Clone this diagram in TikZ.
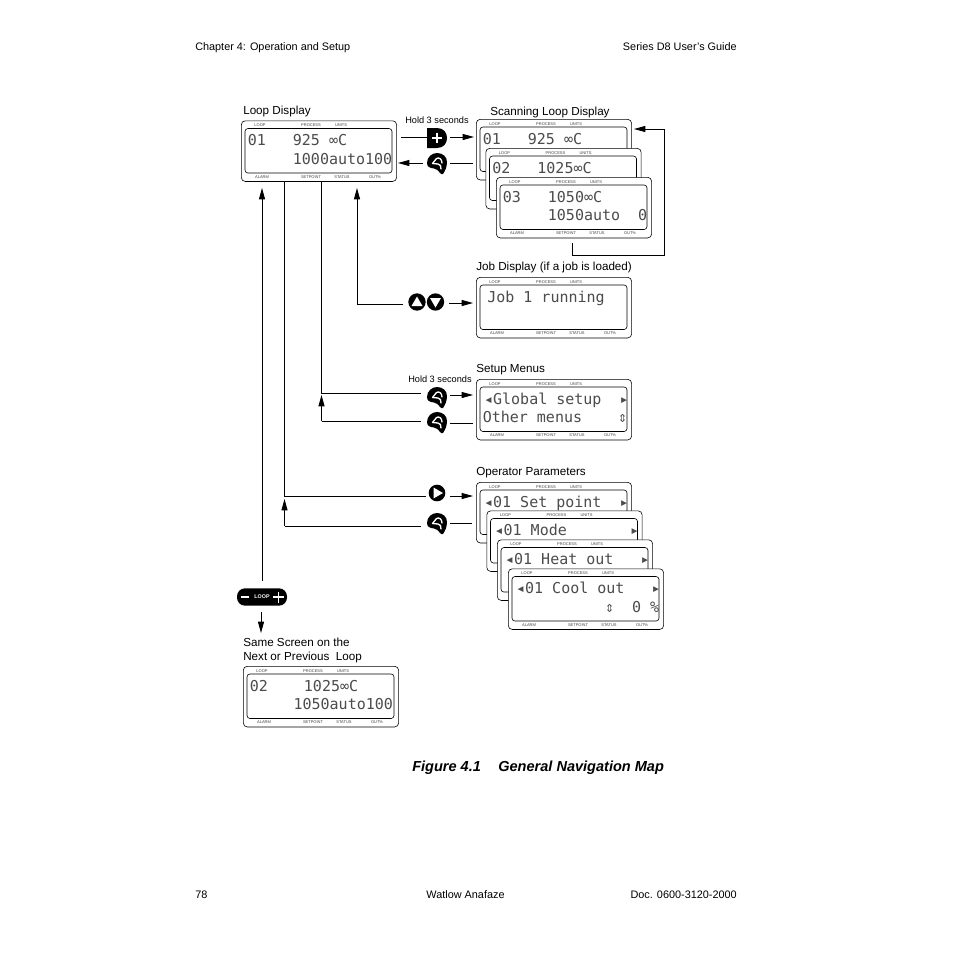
\documentclass[tikz,border=0pt]{standalone}
\usepackage{fontspec}
\setmainfont{Liberation Sans}
\newfontfamily\lcdfont{DejaVu Sans Mono}
\usetikzlibrary{arrows.meta}
\tikzset{
  px/.style={x=0.75pt,y=-0.75pt},
  lab/.style={inner sep=0pt,anchor=west,font=\fontsize{8.75pt}{10pt}\selectfont},
  page/.style={inner sep=0pt,anchor=west,font=\fontsize{8.15pt}{9.6pt}\selectfont},
  small/.style={inner sep=0pt,font=\fontsize{6.9pt}{8pt}\selectfont},
  tiny/.style={inner sep=0pt,text=black!75,font=\fontsize{3pt}{3.5pt}\selectfont},
  lcdtext/.style={inner sep=0pt,anchor=base west,text=black!70,font=\lcdfont\fontsize{11.25pt}{12pt}\selectfont},
  panel/.style={draw=black,line width=0.45pt,fill=white,rounded corners=3pt},
  pane/.style={draw=black,line width=0.45pt,rounded corners=2.2pt},
  link/.style={draw=black,line width=0.65pt},
  tip/.style={link,-{Triangle[length=8.5pt,width=4.5pt]}},
  btn/.style={inner sep=0pt,minimum size=15pt}
}
% \lcdbase{name}{x}{y}: panel, inner window and the top scale labels
\newcommand{\lcdbase}[3]{%
    \node[panel,minimum width=116.5pt,minimum height=45.5pt,anchor=north west,inner sep=0pt] (#1) at (#2,#3) {};
    \draw[pane] (#2+4,#3+8) rectangle (#2+151,#3+52.5);
    \node[tiny] at (#2+19,#3+5) {LOOP};
    \node[tiny] at (#2+70,#3+5) {PROCESS};
    \node[tiny] at (#2+100,#3+5) {UNITS};}
\newcommand{\lcdbottom}[2]{%
    \node[tiny] at (#1+21,#2+56.5) {ALARM};
    \node[tiny] at (#1+70,#2+56.5) {SETPOINT};
    \node[tiny] at (#1+101,#2+56.5) {STATUS};
    \node[tiny] at (#1+134,#2+56.5) {OUT\%};}
\newcommand{\lcdone}[3]{\node[lcdtext] at (#1+6.5,#2+25.3) {#3};}
\newcommand{\lcdtwo}[3]{\node[lcdtext] at (#1+6.5,#2+43.8) {#3};}
\newcommand{\backshape}[2]{%
  \node[btn] (#1) at #2 {};
  \begin{scope}[shift={#2}]
    \fill[black] (-10,0) .. controls (-10,-6) and (-5,-10) .. (0,-10) .. controls (6,-10) and (10,-6) .. (10,-1) .. controls (10,4) and (8,8) .. (6,11) .. controls (5,11.5) and (4,11) .. (3,10) .. controls (1,7) and (-1,6) .. (-3,5.5) .. controls (-7,5) and (-10,4) .. (-10,0) -- cycle;
    \draw[white,line width=1pt,line cap=round] (-4.5,0.5) -- (-0.5,-4.5);
    \draw[white,line width=1pt,line cap=round] (-4.5,0.5) -- (1,1) .. controls (3.5,1.5) and (4,3) .. (4,6);
    \draw[white,line width=1pt,line cap=round] (-0.5,-4.5) .. controls (2,-6) and (5,-4) .. (5,0);
  \end{scope}}
\begin{document}
\begin{tikzpicture}[px]
\useasboundingbox (0,0) rectangle (954,954);
\fill[white] (0,0) rectangle (954,954);

% page furniture
\node[page] (hl) at (195,47.5) {Chapter 4: Operation and Setup};
\node[page,anchor=east] (hr) at (737,47) {Series D8 User’s Guide};
\node[page] (fl) at (195,895) {78};
\node[page,anchor=center] (fc) at (465.5,895) {Watlow Anafaze};
\node[page,anchor=east] (fr) at (737,895) {Doc. 0600-3120-2000};
\node[inner sep=0pt,anchor=west,font=\fontsize{10.9pt}{12pt}\selectfont\bfseries\itshape] (title) at (412,768) {Figure 4.1\hspace{1.2em}General Navigation Map};

% captions
\node[lab] (c1) at (243,111) {Loop Display};
\node[lab] (c2) at (490,112) {Scanning Loop Display};
\node[lab] (c3) at (476,267) {Job Display (if a job is loaded)};
\node[lab] (c4) at (476,370) {Setup Menus};
\node[lab] (c5) at (476,473) {Operator Parameters};
\node[lab] (c6) at (243,642) {Same Screen on the};
\node[lab] (c7) at (243,657) {Next or Previous\ \ Loop};
\node[small,anchor=west] (h1) at (405,120) {Hold 3 seconds};
\node[small,anchor=west] (h2) at (408,379.5) {Hold 3 seconds};

% displays
\lcdbase{loopd}{241}{120.5}\lcdbottom{241}{120.5}
\lcdone{241}{120.5}{01~~~925~∞C}\lcdtwo{241}{120.5}{~~~~~1000auto100}

\lcdbase{scanA}{476}{119}
\lcdone{476}{119}{01~~~925~∞C}
\lcdbase{scanB}{485.5}{148}
\lcdone{485.5}{148}{02~~~1025∞C}
\lcdbase{scanC}{496}{177}\lcdbottom{496}{177}
\lcdone{496}{177}{03~~~1050∞C}\lcdtwo{496}{177}{~~~~~1050auto~~0}

\lcdbase{jobd}{476}{277}\lcdbottom{476}{277}
\lcdone{476}{277}{\hspace*{3.4pt}Job~1~running}

\lcdbase{setup}{476}{379}\lcdbottom{476}{379}
\lcdone{476}{379}{\hspace*{1pt}◂Global~setup~~▸}\lcdtwo{476}{379}{Other~menus~~~~⇕}

\lcdbase{opA}{476}{482}
\lcdone{476}{482}{\hspace*{1pt}◂01~Set~point~~▸}
\lcdbase{opB}{486.5}{510.5}
\lcdone{486.5}{510.5}{\hspace*{1pt}◂01~Mode~~~~~~~▸}
\lcdbase{opC}{497}{539.5}
\lcdone{497}{539.5}{\hspace*{1pt}◂01~Heat~out~~~▸}
\lcdbase{opD}{508}{568.5}\lcdbottom{508}{568.5}
\lcdone{508}{568.5}{\hspace*{1pt}◂01~Cool~out~~~▸}\lcdtwo{508}{568.5}{~~~~~~~~~~⇕~~0~\%}

\lcdbase{nextd}{243}{666}\lcdbottom{243}{666}
\lcdone{243}{666}{02~~~~1025∞C}\lcdtwo{243}{666}{\hspace*{-1pt}~~~~~1050auto100}

% buttons
\node[btn] (plus) at (437,138) {};
\fill[black] (427,128) -- (437,128) .. controls (444,128) and (447,133) .. (447,138) .. controls (447,143) and (444,148) .. (437,148) -- (427,148) -- cycle;
\draw[white,line width=1.5pt] (432,138) -- (442,138) (437,133) -- (437,143);
\backshape{backA}{(437,163)}
\backshape{backB}{(437,397)}
\backshape{backC}{(437,422)}
\backshape{backD}{(437,523)}
\node[btn,circle,fill=black,minimum size=13pt] (upb) at (417,302) {};
\node[btn,circle,fill=black,minimum size=13pt] (dnb) at (435.5,302) {};
\fill[white] (417,296.5) -- (422.5,306) -- (411.5,306) -- cycle;
\fill[white] (435.5,307.5) -- (441,298) -- (430,298) -- cycle;
\node[btn,circle,fill=black,minimum size=12.5pt] (rtb) at (437,493) {};
\fill[white] (433.5,487.5) -- (443,493) -- (433.5,498.5) -- cycle;
\node[inner sep=0pt,fill=black,rounded corners=6pt,minimum width=37.5pt,minimum height=13pt,text=white,font=\bfseries\fontsize{4pt}{4pt}\selectfont] (loopb) at (262,597) {LOOP};
\draw[white,line width=0.9pt] (241,597) -- (249,597) (273,597) -- (284,597) (278.5,591.5) -- (278.5,602.5);

% free ends
\coordinate (ltip) at (300,188);
\coordinate (a0) at (401,137);
\coordinate (a1) at (450,137);
\coordinate (a2) at (474,137);
\coordinate (b1) at (473,163);
\coordinate (b2) at (450,163);
\coordinate (b3) at (423,163);
\coordinate (b4) at (398,163);

% connectors: top row
\draw[link] (a0) -- (plus.west|-a0);
\draw[tip] (a1) -- (a2);
\draw[link] (b1) -- (b2);
\draw[tip] (b3) -- (b4);

% scan loop
\coordinate (s1) at (572,243);
\coordinate (s2) at (572,255);
\coordinate (s3) at (664,255);
\coordinate (s4) at (664,129);
\coordinate (s5) at (634,129);
\draw[tip] (s1) -- (s2) -- (s3) -- (s4) -- (s5);

% job
\coordinate (j0) at (403,304);
\coordinate (j1) at (357,304);
\coordinate (j2) at (449,303);
\coordinate (j3) at (473,303);
\draw[link] (j0) -- (j1);
\draw[tip] (j1) -- (j1|-ltip);
\draw[tip] (j2) -- (j3);

% setup
\coordinate (m0) at (321.5,182);
\coordinate (m1) at (321.5,393);
\coordinate (mt) at (321.5,395);
\coordinate (m2) at (321.5,421);
\coordinate (m3) at (421,393);
\coordinate (m4) at (421,421);
\coordinate (m5) at (450,395);
\coordinate (m6) at (473,395);
\coordinate (m7) at (450,423);
\coordinate (m8) at (473,423);
\draw[link] (m0) -- (m1) -- (m3);
\draw[tip] (m5) -- (m6);
\draw[tip] (m2) -- (mt);
\draw[link] (m2) -- (m4);
\draw[link] (m7) -- (m8);

% operator
\coordinate (o0) at (284.5,182);
\coordinate (o1) at (284.5,496);
\coordinate (ot) at (284.5,499);
\coordinate (o2) at (284.5,526);
\coordinate (o3) at (426,496);
\coordinate (o4) at (421,526);
\coordinate (o5) at (450,496);
\coordinate (o6) at (473,496);
\coordinate (o7) at (450,523);
\coordinate (o8) at (472,523);
\draw[link] (o0) -- (o1) -- (o3);
\draw[tip] (o5) -- (o6);
\draw[tip] (o2) -- (ot);
\draw[link] (o2) -- (o4);
\draw[link] (o7) -- (o8);

% loop key
\coordinate (k0) at (262,581);
\coordinate (k1) at (261,612);
\coordinate (k2) at (261,633);
\draw[tip] (k0) -- (k0|-ltip);
\draw[tip] (k1) -- (k2);
\end{tikzpicture}
\end{document}
